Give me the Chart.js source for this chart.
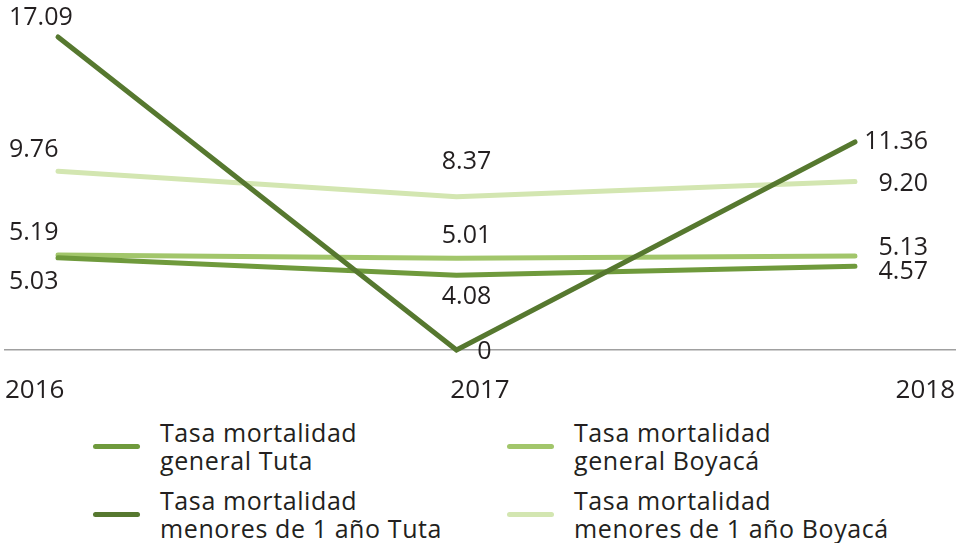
<!DOCTYPE html>
<html>
<head>
<meta charset="utf-8">
<script src="https://cdn.jsdelivr.net/npm/chart.js@4/dist/chart.umd.min.js"></script>
<style>
  body { margin: 0; background: #fff; font-family: "Open Sans", sans-serif; }
  #wrap { position: relative; width: 963px; height: 543px; }
  #chart-box { position: absolute; left: 0; top: 0; width: 963px; height: 410px; }
  #legend { position: absolute; left: 93px; top: 418px; display: grid; grid-template-columns: 414px 400px; row-gap: 12px; grid-auto-flow: column; grid-template-rows: auto auto; }
  .item { display: flex; align-items: center; }
  .swatch { width: 47px; height: 5px; border-radius: 3px; margin-right: 20px; flex: none; }
  .txt { font-size: 25px; line-height: 28px; letter-spacing: 0.6px; color: #231f20; }
</style>
</head>
<body>
<div id="wrap">
  <div id="chart-box"><canvas id="chart"></canvas></div>
  <div id="legend"></div>
</div>
<script>
// values
const years = [2016, 2017, 2018];
const generalTuta = [5.03, 4.08, 4.57];
const menoresTuta = [17.09, 0, 11.36];
const generalBoyaca = [5.19, 5.01, 5.13];
const menoresBoyaca = [9.76, 8.37, 9.20];

const seriesNames = [
  ["Tasa mortalidad", "general Tuta"],
  ["Tasa mortalidad", "menores de 1 año Tuta"],
  ["Tasa mortalidad", "general Boyacá"],
  ["Tasa mortalidad", "menores de 1 año Boyacá"]
];
const seriesColors = ["#6f9a3c", "#56782f", "#a2c66b", "#d3e6b1"];

// label placement relative to each point [dx, dy]
const labelOffsets = [
  [[-49, 24], [10, 22], [73, 6]],
  [[-49, -19], [28, 2], [73, 0]],
  [[-49, -22], [10, -22], [73, -8]],
  [[-49, -21], [10, -35], [73, 2]]
];
const labelAlign = ['left', 'center', 'right'];

const toPoints = (vals) => vals.map((v, i) => ({ x: years[i], y: v }));

const datasets = [generalTuta, menoresTuta, generalBoyaca, menoresBoyaca].map((vals, i) => ({
  label: seriesNames[i].join(' '),
  data: toPoints(vals),
  borderColor: seriesColors[i],
  backgroundColor: seriesColors[i],
  borderWidth: 5,
  borderCapStyle: 'round',
  borderJoinStyle: 'miter',
  pointRadius: 0,
  pointHoverRadius: 0,
  tension: 0,
  clip: 8
}));

// draw order: lighter lines underneath
datasets[0].order = 2;
datasets[1].order = 1;
datasets[2].order = 3;
datasets[3].order = 4;

const valueLabels = {
  id: 'valueLabels',
  afterDatasetsDraw(chart) {
    const ctx = chart.ctx;
    ctx.save();
    ctx.font = '25px "Open Sans"';
    ctx.fillStyle = '#231f20';
    ctx.textBaseline = 'middle';
    chart.data.datasets.forEach((ds, d) => {
      const meta = chart.getDatasetMeta(d);
      meta.data.forEach((pt, i) => {
        const off = labelOffsets[d][i];
        ctx.textAlign = labelAlign[i];
        const v = ds.data[i].y;
        const txt = v === 0 ? '0' : v.toFixed(2);
        ctx.fillText(txt, pt.x + off[0], pt.y + off[1]);
      });
    });
    ctx.restore();
  }
};

const chart = new Chart(document.getElementById('chart'), {
  type: 'line',
  data: { datasets: datasets },
  options: {
    responsive: true,
    maintainAspectRatio: false,
    animation: false,
    layout: { autoPadding: false, padding: { left: 5, right: 8, top: 2, bottom: 6 } },
    plugins: {
      legend: { display: false },
      tooltip: { enabled: false }
    },
    scales: {
      x: {
        type: 'linear',
        min: 2015.867,
        max: 2018.251,
        display: false
      },
      xl: {
        type: 'category',
        position: 'bottom',
        labels: years.map(String),
        offset: false,
        grid: { display: false, drawTicks: false },
        border: { display: true, color: '#a0a0a0', width: 1.5 },
        ticks: {
          align: 'inner',
          maxRotation: 0,
          autoSkip: false,
          padding: 25,
          color: '#231f20',
          font: { family: 'Open Sans', size: 26 }
        },
        afterFit(scale) {
          scale.paddingLeft = 0;
          scale.paddingRight = 0;
          scale.height = 54;
        }
      },
      y: {
        display: false,
        min: 0,
        max: 19
      }
    }
  },
  plugins: [valueLabels]
});

// legend built from the datasets, two columns
const legendEl = document.getElementById('legend');
seriesNames.forEach((lines, i) => {
  const item = document.createElement('div');
  item.className = 'item';
  item.innerHTML = `<span class="swatch" style="background:${seriesColors[i]}"></span><span class="txt">${lines.join('<br>')}</span>`;
  legendEl.appendChild(item);
});
</script>
</body>
</html>
